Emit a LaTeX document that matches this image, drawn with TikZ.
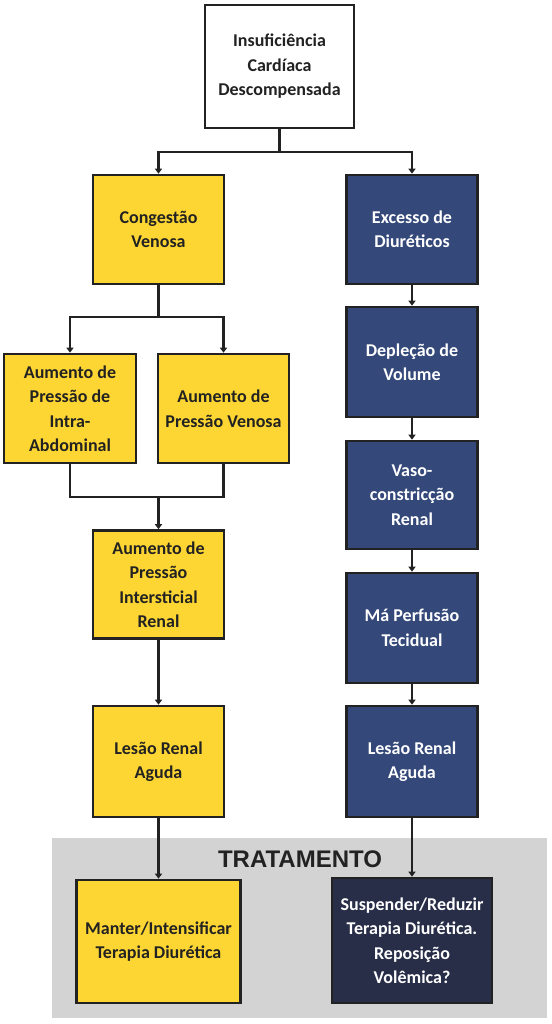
\documentclass[tikz,border=0pt]{standalone}
\usepackage{fontspec}
\setmainfont{Carlito}
\newfontfamily\arialfont{Liberation Sans}
\usetikzlibrary{arrows.meta}
\definecolor{boxyellow}{HTML}{FDD633}
\definecolor{boxnavy}{HTML}{34487A}
\definecolor{boxdark}{HTML}{282E48}
\definecolor{bggray}{HTML}{D3D3D3}
\definecolor{lineblack}{HTML}{222222}
\tikzset{
  flowbox/.style={rectangle, draw=lineblack, line width=2.6pt, inner sep=0pt, align=center,
    font=\fontsize{18}{24.5}\selectfont\bfseries},
  ybox/.style={flowbox, fill=boxyellow, text=lineblack},
  nbox/.style={flowbox, fill=boxnavy, text=white},
  dbox/.style={flowbox, fill=boxdark, text=white},
  wbox/.style={flowbox, fill=white, text=lineblack},
  conn/.style={draw=lineblack, line width=2.6pt},
  arr/.style={conn, -{Triangle[length=5pt,width=7pt]}},
}
\begin{document}
\begin{tikzpicture}[x=1pt,y=-1pt]
\useasboundingbox (0,0) rectangle (551,1024);
\fill[bggray] (52,838) rectangle (547,1018);
\node[font=\arialfont\fontsize{24}{28}\selectfont\bfseries, text=lineblack] (trat) at (300,859) {TRATAMENTO};

\node[wbox, minimum width=149pt, minimum height=123pt] (top) at (279.5,66.5) {Insuficiência\\Cardíaca\\Descompensada};
\node[ybox, minimum width=131pt, minimum height=109pt] (cong) at (158.5,229.5) {Congestão\\Venosa};
\node[nbox, minimum width=131pt, minimum height=109pt] (exc) at (412,229.5) {Excesso de\\Diuréticos};
\node[ybox, minimum width=132pt, minimum height=109pt] (abd) at (70,408.5) {Aumento de\\Pressão de\\Intra-\\Abdominal};
\node[ybox, minimum width=131pt, minimum height=109pt] (ven) at (223.5,408.5) {Aumento de\\Pressão Venosa};
\node[ybox, minimum width=131pt, minimum height=108pt] (inter) at (158.5,584.5) {Aumento de\\Pressão\\Intersticial\\Renal};
\node[ybox, minimum width=131pt, minimum height=111pt] (lesl) at (158.5,761.5) {Lesão Renal\\Aguda};
\node[nbox, minimum width=131pt, minimum height=110pt] (depl) at (412,362) {Depleção de\\Volume};
\node[nbox, minimum width=131pt, minimum height=108pt] (vaso) at (412,495) {Vaso-\\constricção\\Renal};
\node[nbox, minimum width=131pt, minimum height=110pt] (ma) at (412,628) {Má Perfusão\\Tecidual};
\node[nbox, minimum width=131pt, minimum height=111pt] (lesr) at (412,761.5) {Lesão Renal\\Aguda};
\node[ybox, minimum width=164pt, minimum height=123pt] (mant) at (158.5,941.5) {Manter/Intensificar\\Terapia Diurética};
\node[dbox, minimum width=160pt, minimum height=125pt] (susp) at (412,940.5) {Suspender/Reduzir\\Terapia Diurética.\\Reposição\\Volêmica?};

\coordinate (j1) at (279.5,152);
\coordinate (j2) at (158.5,317);
\coordinate (j3) at (158.5,497);
\draw[conn] (top.south) -- (j1);
\draw[arr] (j1) -| (cong.north);
\draw[arr] (j1) -| (exc.north);
\draw[conn] (cong.south) -- (j2);
\draw[arr] (j2) -| (abd.north);
\draw[arr] (j2) -| (ven.north);
\draw[conn] (abd.south) |- (j3);
\draw[conn] (ven.south) |- (j3);
\draw[arr] (j3) -- (inter.north);
\draw[arr] (inter) -- (lesl);
\draw[arr] (lesl) -- (mant);
\draw[arr] (exc) -- (depl);
\draw[arr] (depl) -- (vaso);
\draw[arr] (vaso) -- (ma);
\draw[arr] (ma) -- (lesr);
\draw[arr] (lesr) -- (susp);
\end{tikzpicture}
\end{document}
